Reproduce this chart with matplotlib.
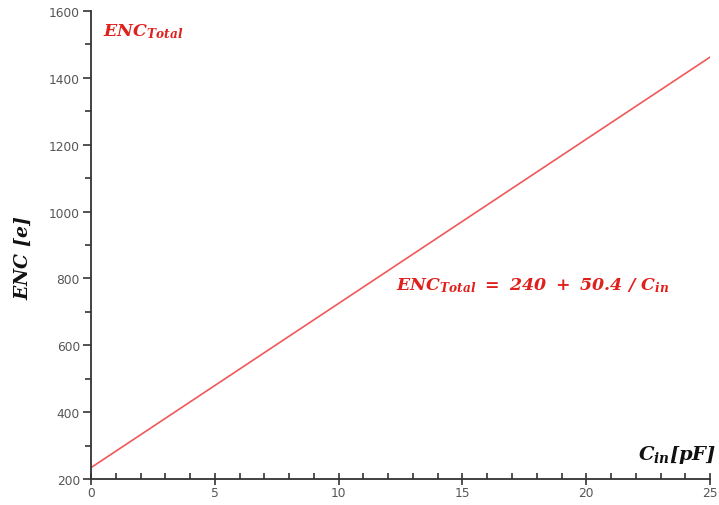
import matplotlib
matplotlib.use('Agg')
import matplotlib.pyplot as plt
from matplotlib.ticker import MultipleLocator

# --- Data ---
cin_pf = [0, 25]
enc_total = [234, 1462]

RED = '#e0201c'
LINE_RED = '#f0585a'
AXIS_COLOR = '#333333'

plt.rcParams['mathtext.fontset'] = 'custom'
plt.rcParams['mathtext.rm'] = 'DejaVu Serif:bold:italic'
plt.rcParams['mathtext.it'] = 'DejaVu Serif:bold:italic'
plt.rcParams['mathtext.bf'] = 'DejaVu Serif:bold:italic'

fig = plt.figure(figsize=(7.19, 5.06), dpi=100)
ax = fig.add_axes([0.1266, 0.0514, 0.861, 0.925])

ax.plot(cin_pf, enc_total, color=LINE_RED, linewidth=1.2)

ax.set_xlim(0, 25)
ax.set_ylim(200, 1600)
ax.xaxis.set_major_locator(MultipleLocator(5))
ax.xaxis.set_minor_locator(MultipleLocator(1))
ax.yaxis.set_major_locator(MultipleLocator(200))
ax.yaxis.set_minor_locator(MultipleLocator(100))

# Style
ax.spines['top'].set_visible(False)
ax.spines['right'].set_visible(False)
for s in ('left', 'bottom'):
    ax.spines[s].set_color(AXIS_COLOR)
    ax.spines[s].set_linewidth(1.3)
ax.tick_params(axis='y', which='major', direction='out', length=6, width=1.2,
               colors=AXIS_COLOR, labelsize=8.8, pad=2)
ax.tick_params(axis='y', which='minor', direction='out', length=4, width=1.2,
               colors=AXIS_COLOR)
ax.tick_params(axis='x', which='major', direction='inout', length=8, width=1.2,
               colors=AXIS_COLOR, labelsize=8.8, pad=1)
ax.tick_params(axis='x', which='minor', direction='in', length=4, width=1.2,
               colors=AXIS_COLOR)
for lbl in ax.get_xticklabels() + ax.get_yticklabels():
    lbl.set_color('#555555')

# Titles and annotations
ax.text(0.019, 0.978, r'$ENC_{Total}$', transform=ax.transAxes, color=RED,
        fontsize=12.5, ha='left', va='top')
ax.text(0.493, 0.415, r'$ENC_{Total}\ =\ 240\ +\ 50.4\ /\ C_{in}$',
        transform=ax.transAxes, color=RED, fontsize=12.5, ha='left', va='center')
ax.text(1.01, 0.03, r'$C_{in}[pF]$', transform=ax.transAxes, color='#111111',
        fontsize=14, ha='right', va='bottom', clip_on=False)
fig.text(0.032, 0.49, r'$ENC\ [e]$', rotation=90, color='#111111',
         fontsize=13.5, ha='center', va='center')

fig.savefig('out.png', dpi=100)
